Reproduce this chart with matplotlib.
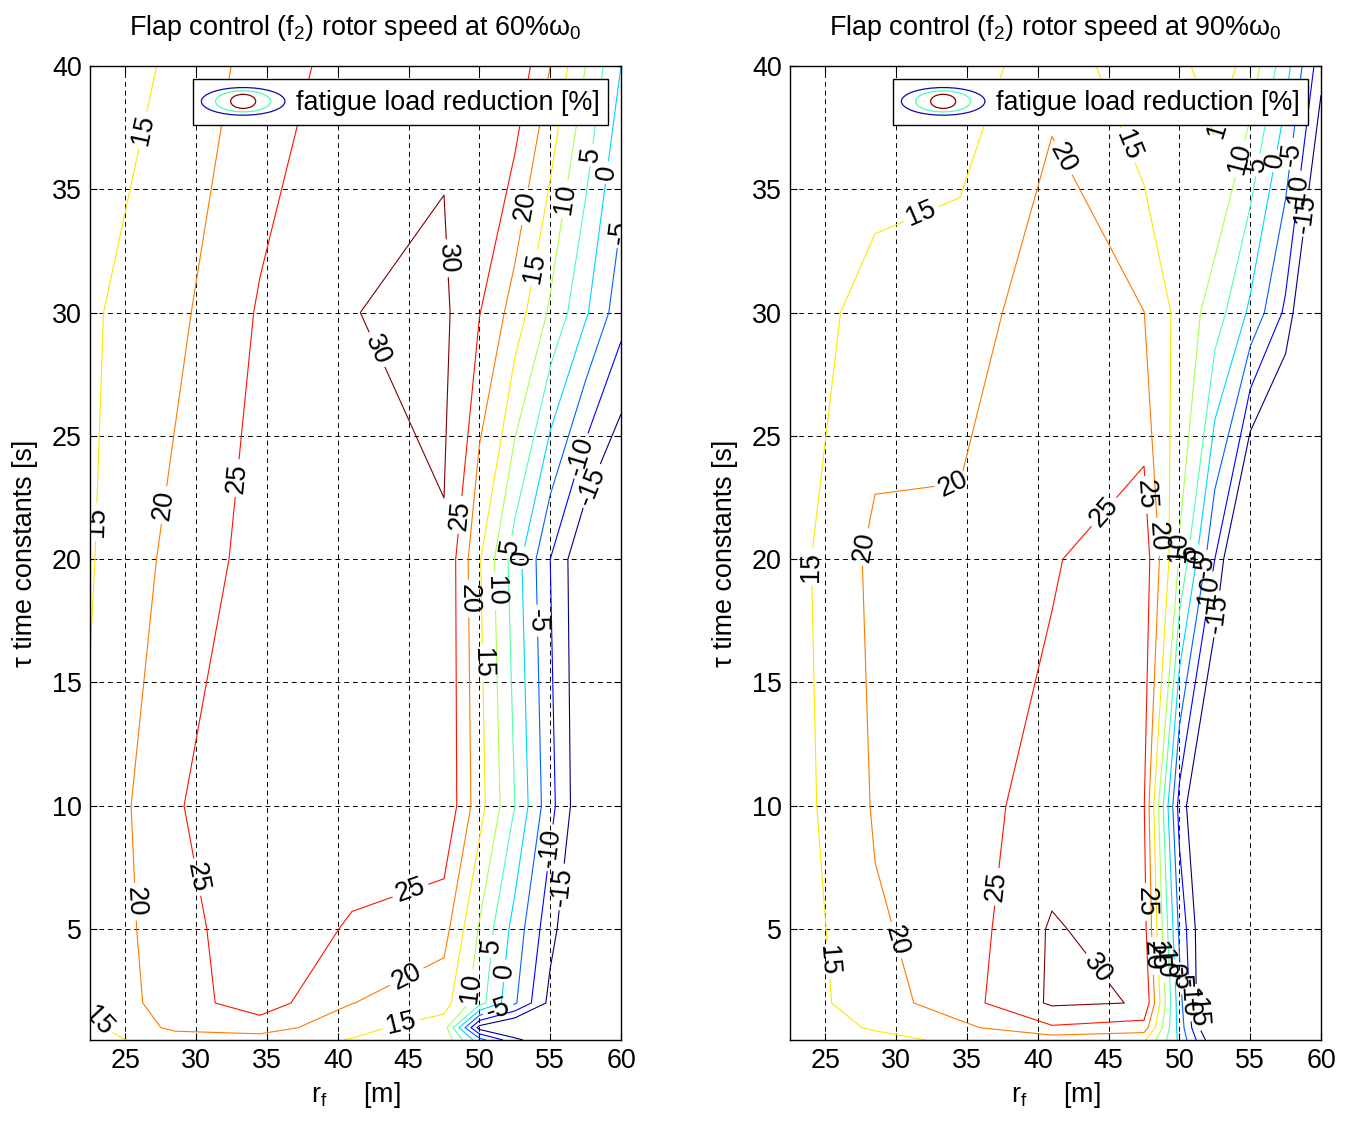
import matplotlib
matplotlib.use('Agg')
import matplotlib.pyplot as plt
import numpy as np
from matplotlib.colors import Normalize
from matplotlib.legend_handler import HandlerBase
from matplotlib.patches import Ellipse, Rectangle

plt.rcParams['font.family'] = ['Liberation Sans', 'DejaVu Sans']
plt.rcParams['mathtext.fontset'] = 'custom'
plt.rcParams['mathtext.rm'] = 'Liberation Sans'
plt.rcParams['mathtext.it'] = 'Liberation Sans:italic'
plt.rcParams['contour.negative_linestyle'] = 'solid'

# grid of the data: flap position r_f [m] and time constant tau [s]
r_f = [22.5, 28.5, 34.5, 41.0, 47.5, 50.0, 52.5, 55.0, 57.5, 60.0]
tau = [0.5, 1.0, 2.0, 5.0, 10.0, 20.0, 30.0, 40.0]

# fatigue load reduction [%], one row per tau value
red_60 = [
    [13.5, 17.0, 17.5, 14.75, 14.0, -3.0, -13.5, -20.0, -25.0, -30.0],
    [13.9, 21.2, 22.5, 16.5, 12.5, -17.0, -22.0, -25.0, -28.0, -32.0],
    [15.5, 22.75, 27.5, 20.1, 17.0, 7.1, -4.3, -16.5, -24.0, -30.0],
    [16.1, 23.2, 28.0, 24.5, 21.9, 9.5, -1.9, -13.3, -22.0, -28.0],
    [15.6, 24.7, 27.5, 28.0, 29.5, 17.0, 5.0, -8.3, -20.0, -28.0],
    [14.6, 21.5, 27.0, 28.5, 29.67, 15.5, 2.5, -10.0, -20.0, -25.0],
    [14.3, 18.7, 25.5, 29.9, 31.0, 25.2, 17.8, 9.2, 0.7, -8.0],
    [11.0, 16.1, 22.0, 27.3, 28.9, 28.5, 29.0, 20.0, 10.0, 0.0],
]
red_90 = [
    [11.0, 13.5, 16.0, 17.1, 15.65, -1.0, -20.0, -30.0, -35.0, -40.0],
    [12.25, 15.5, 18.8, 24.4, 22.9, -2.0, -25.0, -32.0, -36.0, -40.0],
    [12.5, 17.6, 22.85, 30.73, 29.8, -3.0, -28.0, -34.0, -38.0, -42.0],
    [11.7, 19.45, 22.0, 30.6, 27.0, -6.0, -26.0, -32.0, -36.0, -40.0],
    [12.5, 20.46, 23.5, 26.5, 25.3, -12.0, -27.0, -35.0, -40.0, -45.0],
    [12.9, 21.25, 20.67, 24.6, 28.0, 9.6, -10.0, -30.0, -35.0, -40.0],
    [12.8, 16.5, 18.5, 21.75, 20.05, 13.4, 7.7, -1.0, -11.0, -30.0],
    [10.0, 11.8, 11.0, 19.3, 10.3, 13.5, 18.0, 13.0, 2.0, -13.0],
]
levels = [-15, -10, -5, 0, 5, 10, 15, 20, 25, 30]

# where the contour labels sit (x, y, level)
labels_60 = [
    (26.2, 37.4, 15), (23.1, 21.5, 15), (22.9, 1.2, 15),
    (27.65, 22.2, 20), (25.4, 6.1, 20),
    (32.7, 23.3, 25), (29.1, 7.0, 25), (45.1, 6.6, 25), (48.5, 21.8, 25),
    (47.6, 32.2, 30), (42.0, 28.3, 30),
    (53.3, 34.3, 20), (54.0, 31.8, 15), (56.1, 34.6, 10), (57.8, 36.4, 5),
    (58.8, 35.7, 0), (59.3, 33.3, -5), (57.1, 24.2, -10), (57.8, 23.0, -15),
    (52.1, 20.5, 5), (52.7, 20.1, 0), (49.0, 18.4, 20), (50.7, 18.7, 10),
    (53.6, 17.5, -5), (50.0, 15.8, 15),
    (54.9, 8.3, -10), (55.9, 6.7, -15), (50.9, 4.3, 5), (51.8, 3.3, 0),
    (49.2, 2.6, 10), (45.1, 2.8, 20), (44.5, 1.1, 15), (51.4, 1.6, -5),
]
labels_90 = [
    (32.2, 33.4, 15), (41.55, 36.2, 20), (46.5, 36.8, 15), (54.0, 37.5, 15),
    (54.5, 36.2, 10), (55.5, 36.0, 5), (56.3, 36.2, 0), (57.0, 36.5, -5),
    (58.5, 34.8, -10), (59.2, 34.0, -15),
    (34.1, 22.8, 20), (27.7, 20.5, 20), (24.05, 19.7, 15), (44.7, 21.9, 25),
    (47.3, 22.6, 25), (48.3, 20.9, 20), (49.0, 20.5, 10), (49.6, 20.4, 5),
    (50.2, 20.2, 0), (51.0, 19.8, -5), (51.7, 18.6, -10), (52.3, 17.8, -15),
    (24.4, 3.7, 15), (29.7, 4.5, 20), (37.3, 6.7, 25), (44.0, 3.3, 30),
    (47.3, 6.1, 25), (47.7, 3.9, 20), (48.2, 3.9, 15), (48.8, 3.6, 10),
    (49.3, 3.3, 0), (50.2, 3.0, -5), (50.5, 2.2, -10), (51.0, 1.8, -15),
]

FS = 19.4
cmap = plt.get_cmap('jet')
norm = Normalize(vmin=-15, vmax=30)


class ContourIcon(HandlerBase):
    # small nested contour rings like the matlab legend icon
    def create_artists(self, legend, orig_handle, xdescent, ydescent,
                       width, height, fontsize, trans):
        cx = width / 2 - xdescent
        cy = height / 2 - ydescent
        arts = []
        for f, c in [(1.0, (0.05, 0.05, 0.65)), (0.66, (0.3, 1.0, 0.7)),
                     (0.3, (0.55, 0.0, 0.0))]:
            arts.append(Ellipse((cx, cy), width * f, height * (0.3 + 0.7 * f),
                                fill=False, edgecolor=c, lw=0.9, transform=trans))
        return arts


def panel(ax, Z, lab, title):
    R, T = np.meshgrid(r_f, tau)
    Z = np.array(Z)
    for lev in levels:
        cs = ax.contour(R, T, Z, levels=[lev], colors=[cmap(norm(lev))],
                        linewidths=0.8, linestyles='solid')
        pts = [(x, y) for x, y, l in lab if l == lev]
        if pts:
            ax.clabel(cs, manual=pts, fmt='%d', fontsize=FS, colors='k',
                      inline=True, inline_spacing=4)
    ax.set_xlim(22.5, 60)
    ax.set_ylim(0.5, 40)
    ax.set_xticks(range(25, 61, 5))
    ax.set_yticks(range(5, 41, 5))
    ax.grid(True, color='k', linestyle=(0, (5, 4)), linewidth=0.7)
    ax.tick_params(direction='in', top=True, right=True, length=5,
                   labelsize=FS, pad=6)
    for s in ax.spines.values():
        s.set_linewidth(1.0)
    ax.set_title(title, fontsize=FS, pad=22)
    ax.set_xlabel(r'r$_\mathrm{f}$     [m]', fontsize=FS, labelpad=4)
    ax.set_ylabel('τ time constants [s]', fontsize=FS, labelpad=10)
    leg = ax.legend([Rectangle((0, 0), 1, 1)], ['fatigue load reduction [%]'],
                    handler_map={Rectangle: ContourIcon()}, loc='upper right',
                    fontsize=FS, fancybox=False, edgecolor='k', framealpha=1,
                    handlelength=3.1, handleheight=1.2, borderaxespad=0.5,
                    borderpad=0.3, handletextpad=0.4)
    leg.get_frame().set_linewidth(1.0)


fig = plt.figure(figsize=(13.49, 11.22), dpi=100)
ax1 = fig.add_axes([90 / 1349, 1 - 1040 / 1122, 531 / 1349, 974 / 1122])
ax2 = fig.add_axes([790 / 1349, 1 - 1040 / 1122, 531 / 1349, 974 / 1122])
panel(ax1, red_60, labels_60, 'Flap control (f$_2$) rotor speed at 60%ω$_0$')
panel(ax2, red_90, labels_90, 'Flap control (f$_2$) rotor speed at 90%ω$_0$')

fig.savefig('out.png', dpi=100)
